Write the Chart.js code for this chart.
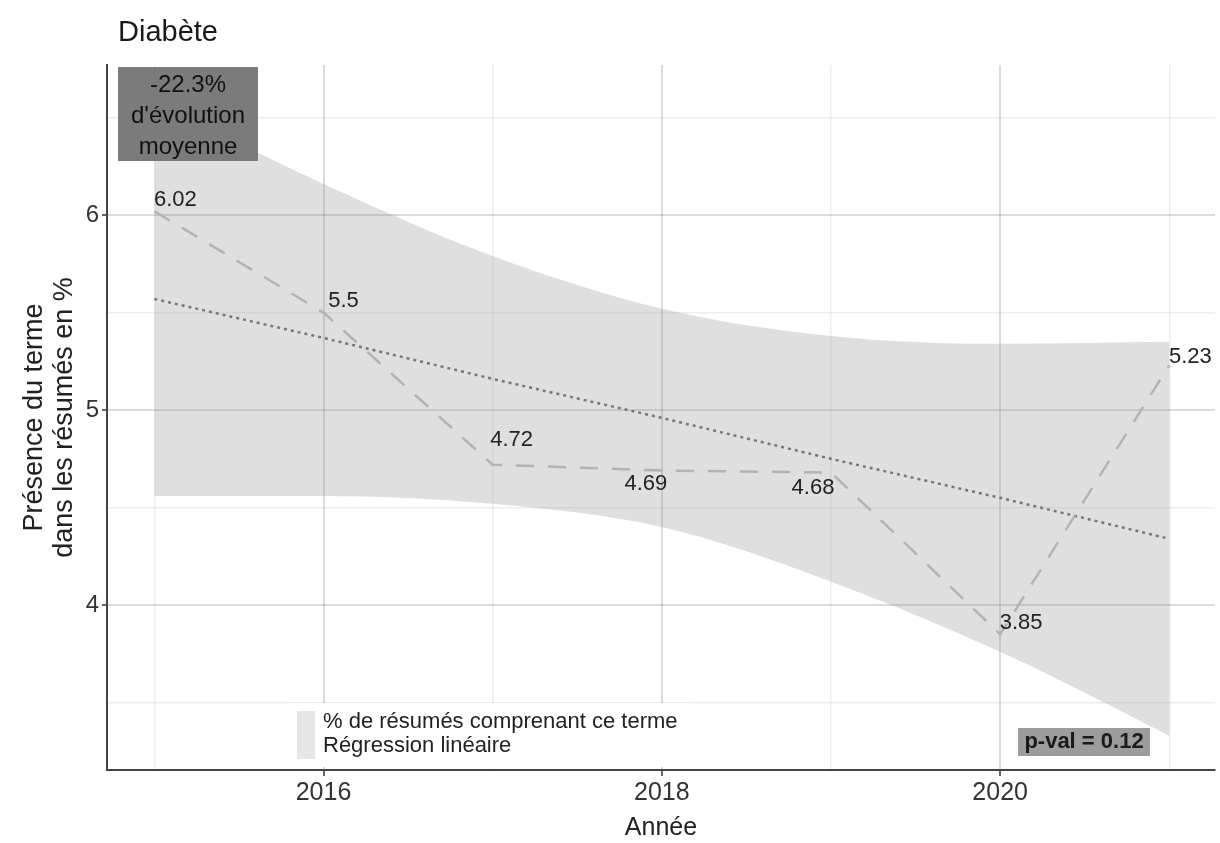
<!DOCTYPE html>
<html lang="fr">
<head>
<meta charset="utf-8">
<title>Diabète</title>
<script src="https://cdn.jsdelivr.net/npm/chart.js@4.4.1/dist/chart.umd.min.js"></script>
<style>
  html, body { margin: 0; padding: 0; background: #fff; }
  #wrap { width: 1220px; height: 843px; }
</style>
</head>
<body>
<div id="wrap"><canvas id="diabeteChart" width="1220" height="843"></canvas></div>
<script>
// Données : présence du terme par année + régression linéaire et son intervalle
const years = [2015, 2016, 2017, 2018, 2019, 2020, 2021];
const presence = [6.02, 5.5, 4.72, 4.69, 4.68, 3.85, 5.23];
const regression = [5.57, 5.37, 5.16, 4.96, 4.75, 4.55, 4.34];
const bandHigh = [6.58, 6.16, 5.79, 5.52, 5.38, 5.34, 5.35];
const bandLow = [4.56, 4.56, 4.52, 4.40, 4.12, 3.76, 3.33];

const xTicks = [2015, 2016, 2017, 2018, 2019, 2020, 2021];
const xMajor = [2016, 2018, 2020];
const yTicks = [3.5, 4, 4.5, 5, 5.5, 6, 6.5];
const yMajor = [4, 5, 6];

const chartTitle = 'Diabète';
const evolutionText = ['-22.3%', "d'évolution", 'moyenne'];
const pValText = 'p-val = 0.12';
const legendLabels = ['% de résumés comprenant ce terme', 'Régression linéaire'];

// décalage des étiquettes de valeur (px) pour éviter les chevauchements
const labelOffsets = [[21, -11], [20, -12], [19, -25], [-16, 13], [-18, 15], [21, -11], [21, -8]];

const FONT = "'Liberation Sans', Arial, sans-serif";
const toPoints = (vals) => years.map((x, i) => ({ x: x, y: vals[i] }));

const gridColor = (major) => (ctx) => {
  if (!ctx.tick) return 'rgba(0,0,0,0)';
  return major.includes(ctx.tick.value) ? 'rgba(0,0,0,0.14)' : 'rgba(0,0,0,0.07)';
};
const gridWidth = (major) => (ctx) => (ctx.tick && major.includes(ctx.tick.value) ? 2 : 1.5);
const tickColor = (major) => (ctx) => (ctx.tick && major.includes(ctx.tick.value) ? '#333' : 'rgba(0,0,0,0)');

// annotations dessinées à la main : étiquettes, encadrés, légende, titre
const annotations = {
  id: 'annotations',
  afterDatasetsDraw(chart) {
    const { ctx, scales: { x, y }, chartArea } = chart;
    ctx.save();

    // étiquettes des valeurs
    ctx.font = '22px ' + FONT;
    ctx.fillStyle = '#222';
    ctx.textAlign = 'center';
    ctx.textBaseline = 'middle';
    presence.forEach((v, i) => {
      const px = x.getPixelForValue(years[i]);
      const py = y.getPixelForValue(v);
      ctx.fillText(v.toString(), px + labelOffsets[i][0], py + labelOffsets[i][1]);
    });

    // encadré d'évolution moyenne
    const bx = chartArea.left + 11, by = chartArea.top + 2;
    ctx.fillStyle = '#7b7b7b';
    ctx.fillRect(bx, by, 140, 94);
    ctx.fillStyle = '#111';
    ctx.font = '24px ' + FONT;
    evolutionText.forEach((t, i) => ctx.fillText(t, bx + 70, by + 18 + i * 31));

    // p-valeur
    const vx = chartArea.right - 197, vy = chartArea.bottom - 42;
    ctx.fillStyle = '#9c9c9c';
    ctx.fillRect(vx, vy, 132, 28);
    ctx.fillStyle = '#1a1a1a';
    ctx.font = 'bold 22px ' + FONT;
    ctx.fillText(pValText, vx + 66, vy + 14);

    // légende
    const lx = chartArea.left + 183, ly = chartArea.bottom - 67;
    ctx.fillStyle = '#fff';
    ctx.fillRect(lx, ly, 400, 64);
    ctx.fillStyle = '#e6e6e6';
    ctx.fillRect(lx + 7, ly + 8, 18, 48);
    ctx.fillStyle = '#222';
    ctx.font = '22px ' + FONT;
    ctx.textAlign = 'left';
    legendLabels.forEach((t, i) => ctx.fillText(t, lx + 33, ly + 19 + i * 24));

    // titre
    ctx.font = '29px ' + FONT;
    ctx.fillStyle = '#1a1a1a';
    ctx.fillText(chartTitle, 118, 33);
    ctx.restore();
  }
};

new Chart(document.getElementById('diabeteChart'), {
  type: 'line',
  data: {
    datasets: [
      {
        label: 'bas',
        data: toPoints(bandLow),
        borderWidth: 0,
        pointRadius: 0,
        fill: false,
        cubicInterpolationMode: 'monotone',
        order: 4
      },
      {
        label: 'intervalle',
        data: toPoints(bandHigh),
        borderWidth: 0,
        pointRadius: 0,
        backgroundColor: 'rgba(150,150,150,0.3)',
        fill: '-1',
        cubicInterpolationMode: 'monotone',
        order: 3
      },
      {
        label: legendLabels[1],
        data: toPoints(regression),
        borderColor: '#777',
        borderWidth: 2.5,
        borderDash: [3, 4],
        pointRadius: 0,
        fill: false,
        order: 2
      },
      {
        label: legendLabels[0],
        data: toPoints(presence),
        borderColor: '#b3b3b3',
        borderWidth: 2.5,
        borderDash: [18, 14],
        pointRadius: 0,
        fill: false,
        tension: 0,
        order: 1
      }
    ]
  },
  options: {
    responsive: false,
    animation: false,
    devicePixelRatio: 1,
    layout: { padding: { top: 65, right: 5, left: 0, bottom: 0 } },
    plugins: {
      legend: { display: false },
      tooltip: { enabled: false },
      title: { display: false }
    },
    scales: {
      x: {
        type: 'linear',
        min: 2014.72,
        max: 2021.27,
        afterBuildTicks: (scale) => { scale.ticks = xTicks.map(v => ({ value: v })); },
        afterFit: (scale) => { scale.height = 73; },
        border: { color: '#444', width: 2 },
        grid: {
          color: gridColor(xMajor),
          lineWidth: gridWidth(xMajor),
          tickColor: tickColor(xMajor),
          tickLength: 6,
          tickWidth: 1.5
        },
        ticks: {
          autoSkip: false,
          maxRotation: 0,
          padding: 2,
          color: '#333',
          font: { family: FONT, size: 25 },
          callback: (v) => (xMajor.includes(v) ? String(v) : '')
        },
        title: {
          display: true,
          text: 'Année',
          color: '#222',
          padding: { top: 0, bottom: 0 },
          font: { family: FONT, size: 25 }
        }
      },
      y: {
        min: 3.154,
        max: 6.77,
        afterBuildTicks: (scale) => { scale.ticks = yTicks.map(v => ({ value: v })); },
        afterFit: (scale) => { scale.width = 107; },
        border: { color: '#444', width: 2 },
        grid: {
          color: gridColor(yMajor),
          lineWidth: gridWidth(yMajor),
          tickColor: tickColor(yMajor),
          tickLength: 5,
          tickWidth: 1.5
        },
        ticks: {
          padding: 3,
          color: '#333',
          font: { family: FONT, size: 24 },
          callback: (v) => (yMajor.includes(v) ? String(v) : '')
        },
        title: {
          display: true,
          text: ['Présence du terme', 'dans les résumés en %'],
          color: '#222',
          padding: { top: 20, bottom: 0 },
          font: { family: FONT, size: 27, lineHeight: 1.1 }
        }
      }
    }
  },
  plugins: [annotations]
});
</script>
</body>
</html>
